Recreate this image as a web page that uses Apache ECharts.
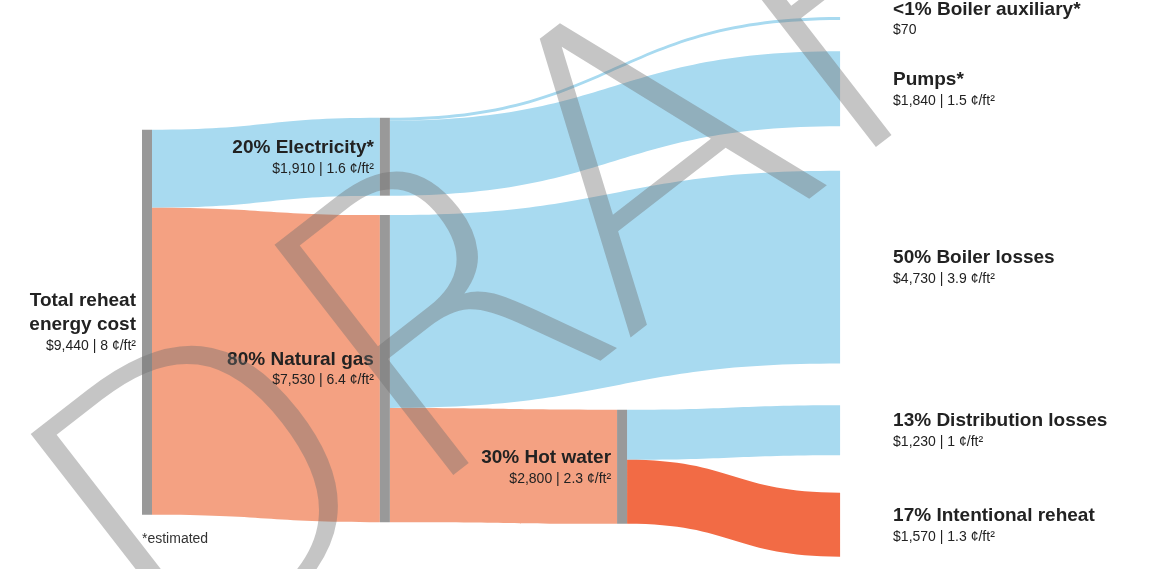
<!DOCTYPE html>
<html><head><meta charset="utf-8">
<script src="https://cdn.jsdelivr.net/npm/echarts@6/dist/echarts.min.js"></script>
<style>html,body{margin:0;background:#fff}#c{width:1149px;height:569px}</style>
</head><body><div id="c"></div>
<script>
// 'Spacer' is an invisible helper node that keeps the hot water flow below the boiler losses flow
var nodeNames = ['Total', 'Electricity', 'Natural gas', 'Spacer', 'Hot water', 'Boiler auxiliary', 'Pumps', 'Boiler losses', 'Distribution losses', 'Intentional reheat'];
var nodeTitles = ['Total reheat\nenergy cost', '20% Electricity*', '80% Natural gas', '', '30% Hot water', '<1% Boiler auxiliary*', 'Pumps*', '50% Boiler losses', '13% Distribution losses', '17% Intentional reheat'];
var nodeSub = ['$9,440 | 8 ¢/ft²', '$1,910 | 1.6 ¢/ft²', '$7,530 | 6.4 ¢/ft²', '', '$2,800 | 2.3 ¢/ft²', '$70', '$1,840 | 1.5 ¢/ft²', '$4,730 | 3.9 ¢/ft²', '$1,230 | 1 ¢/ft²', '$1,570 | 1.3 ¢/ft²'];
var nodeDepth = [0, 1, 1, 2, 2, 3, 3, 3, 3, 3];
var nodeValue = [null, null, null, 4730, null, null, null, null, null, null];
// node placement as fractions of the layout box
var nodeX = [0, 0.336, 0.336, 0.671, 0.671, 0.986, 0.986, 0.986, 0.986, 0.986];
var nodeY = [0.228, 0.207, 0.378, 0.0, 0.72, 0.03, 0.09, 0.3, 0.712, 0.866];
var linkSource = ['Total', 'Total', 'Electricity', 'Electricity', 'Natural gas', 'Natural gas', 'Hot water', 'Hot water'];
var linkTarget = ['Electricity', 'Natural gas', 'Boiler auxiliary', 'Pumps', 'Boiler losses', 'Hot water', 'Distribution losses', 'Intentional reheat'];
var linkValue = [1910, 7530, 70, 1840, 4730, 2800, 1230, 1570];
var linkColor = ['#a8daf0', '#f4a182', '#a8daf0', '#a8daf0', '#a8daf0', '#f4a182', '#a8daf0', '#f26b45'];

var rich = {
  t: { fontFamily: 'Liberation Sans', fontSize: 19, fontWeight: 'bold', color: '#222', lineHeight: 24 },
  s: { fontFamily: 'Liberation Sans', fontSize: 14, color: '#222', lineHeight: 18 }
};
var nodes = nodeNames.map(function (n, i) {
  var term = nodeDepth[i] === 3;
  var hidden = term || n === 'Spacer';
  var title = nodeTitles[i].split('\n').map(function (l) { return '{t|' + l + '}'; }).join('\n');
  var d = {
    name: n, depth: nodeDepth[i], localX: nodeX[i], localY: nodeY[i],
    itemStyle: { color: hidden ? 'rgba(0,0,0,0)' : '#999', borderWidth: 0 },
    label: {
      show: n !== 'Spacer',
      position: term ? 'right' : 'left',
      align: term ? 'left' : 'right',
      distance: term ? 43 : 6,
      formatter: title + '\n{s|' + nodeSub[i] + '}',
      rich: rich
    }
  };
  if (nodeValue[i] != null) d.value = nodeValue[i];
  return d;
});
var links = linkValue.map(function (v, i) {
  return { source: linkSource[i], target: linkTarget[i], value: v, lineStyle: { color: linkColor[i], opacity: 1 } };
});

var chart = echarts.init(document.getElementById('c'));
chart.setOption({
  animation: false,
  series: [{
    type: 'sankey', left: 142, right: 299, top: 0, bottom: 0,
    nodeWidth: 10, nodeGap: 46, layoutIterations: 0, draggable: false,
    emphasis: { disabled: true }, silent: true,
    lineStyle: { curveness: 0.5 },
    data: nodes, links: links
  }],
  graphic: [
    { type: 'text', left: 142, top: 532, style: { text: '*estimated', font: '14px Liberation Sans', fill: '#333' } },
    { type: 'text', x: 230, y: 770, rotation: 0.66, silent: true, z: 100,
      style: { text: 'DRAFT', font: '200 400px "DejaVu Sans"', textVerticalAlign: 'bottom', fill: 'rgba(110,110,110,0.4)' } }
  ]
});
</script></body></html>
